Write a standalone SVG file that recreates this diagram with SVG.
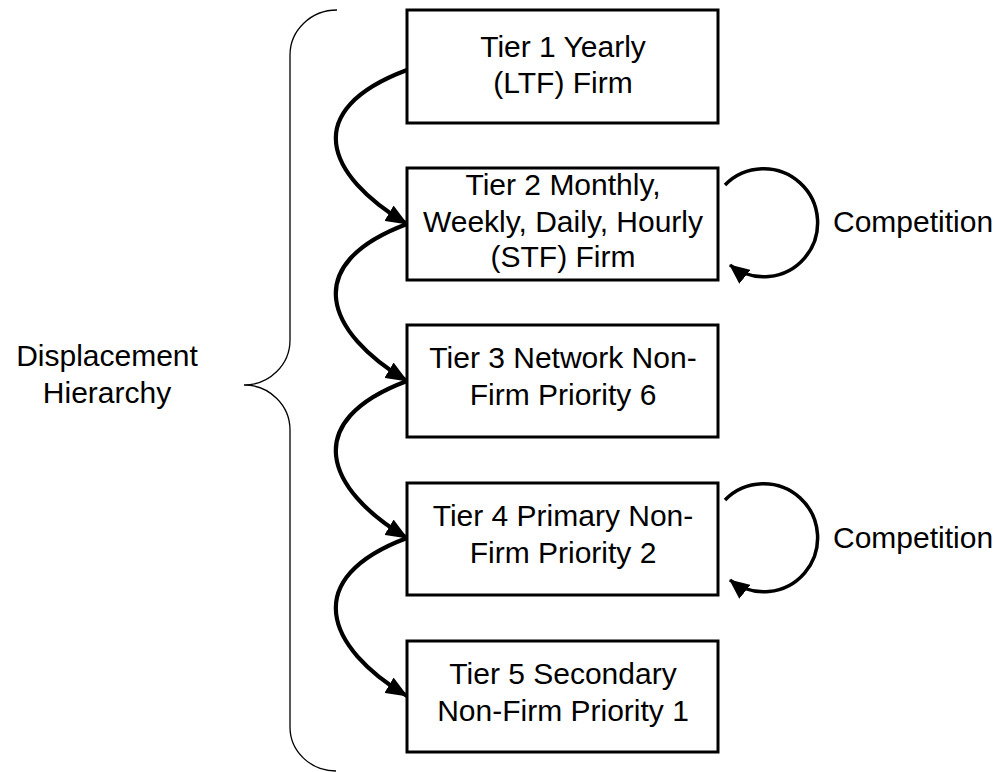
<svg xmlns="http://www.w3.org/2000/svg" width="997" height="772" viewBox="0 0 997 772">
<style>
.box{fill:#fff;stroke:#000;stroke-width:3}
.t{font-family:"Liberation Sans",Arial,sans-serif;font-size:30px;fill:#000;text-anchor:middle}
.lab{font-family:"Liberation Sans",Arial,sans-serif;font-size:30px;fill:#000}
.conn{fill:none;stroke:#000;stroke-width:4.2;marker-end:url(#ah)}
.loop{fill:none;stroke:#000;stroke-width:3.5;marker-end:url(#ah2)}
.brace{fill:none;stroke:#000;stroke-width:1.3}
</style>
<defs>
<marker id="ah" markerUnits="userSpaceOnUse" viewBox="0 0 22 18" markerWidth="22" markerHeight="18" refX="21" refY="9" orient="auto">
<path d="M0,0 L22,9 L0,18 z" fill="#000"/>
</marker>
<marker id="ah2" markerUnits="userSpaceOnUse" viewBox="0 0 20 18" markerWidth="20" markerHeight="18" refX="19" refY="9" orient="auto">
<path d="M0,0 L20,9 L0,18 z" fill="#000"/>
</marker>
</defs>
<g id="brace">
<path class="brace" d="M337,10 A47,45 0 0 0 290,55 L290,340 A46,45 0 0 1 244,385 A46,45 0 0 1 290,430 L290,727 A46,44 0 0 0 336,771"/>
<text class="lab" x="107" y="366" text-anchor="middle">Displacement</text>
<text class="lab" x="107" y="403" text-anchor="middle">Hierarchy</text>
</g>
<g id="tier1">
<rect class="box" x="407" y="10" width="311" height="113"/>
<text class="t" x="563" y="57">Tier 1 Yearly</text>
<text class="t" x="563" y="93">(LTF) Firm</text>
</g>
<g id="tier2">
<rect class="box" x="407" y="168" width="311" height="112"/>
<text class="t" x="563" y="195">Tier 2 Monthly,</text>
<text class="t" x="563" y="232">Weekly, Daily, Hourly</text>
<text class="t" x="563" y="267">(STF) Firm</text>
</g>
<g id="tier3">
<rect class="box" x="407" y="325" width="311" height="112"/>
<text class="t" x="563" y="368">Tier 3 Network Non-</text>
<text class="t" x="563" y="405">Firm Priority 6</text>
</g>
<g id="tier4">
<rect class="box" x="407" y="483" width="311" height="112"/>
<text class="t" x="563" y="526">Tier 4 Primary Non-</text>
<text class="t" x="563" y="563">Firm Priority 2</text>
</g>
<g id="tier5">
<rect class="box" x="407" y="641" width="311" height="111"/>
<text class="t" x="563" y="684">Tier 5 Secondary</text>
<text class="t" x="563" y="721">Non-Firm Priority 1</text>
</g>
<g id="competition-labels">
<text class="lab" x="833" y="232">Competition</text>
<text class="lab" x="833" y="548">Competition</text>
</g>
<g id="connectors">
<path class="conn" d="M407,70 C300,110 325,175 407,224"/>
<path class="conn" d="M407,224 C300,264 325,332 407,381"/>
<path class="conn" d="M407,381 C300,421 325,489 407,538"/>
<path class="conn" d="M407,538 C300,578 325,647 407,696"/>
<path class="loop" d="M725,185 A54,54 0 1 1 730,265"/>
<path class="loop" d="M725,500 A54,54 0 1 1 730,580"/>
</g>
</svg>
